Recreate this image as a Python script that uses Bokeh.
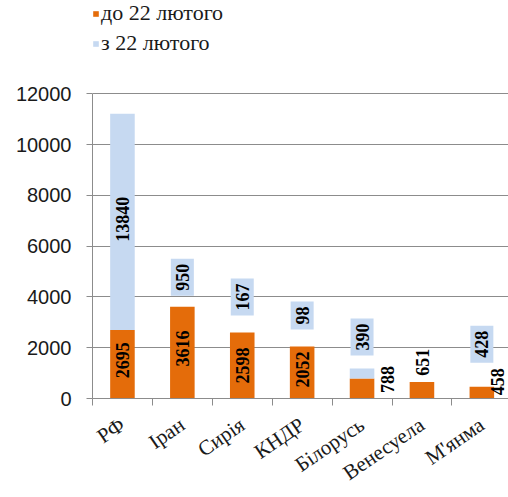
from math import pi
from bokeh.plotting import figure
from bokeh.models import Range1d, FixedTicker, Legend, LegendItem, ColumnDataSource
from bokeh.core.properties import value
from bokeh.embed import file_html
from bokeh.resources import INLINE

# ---- data ----
countries = ["РФ", "Іран", "Сирія", "КНДР", "Білорусь", "Венесуела", "М'янма"]
before_22 = [2695, 3616, 2598, 2052, 788, 651, 458]          # до 22 лютого
after_22_bar = [8520, 0, 0, 0, 390, 0, 0]                    # з 22 лютого (visible bar height)
after_22_label = ["13840", "950", "167", "98", "390", "", "428"]
y_ticks = [0, 2000, 4000, 6000, 8000, 10000, 12000]
series_names = ["до 22 лютого", "з 22 лютого"]

# ---- styles ----
ORANGE = "#e46c0a"
BLUE = "#c6d9f1"
GRID = "#8c8c8c"
SERIF = value("Liberation Serif")
before_off_x = [0, 0, 0, 0, 25, 1, 16]
before_off_y = [-4, -4, 0, -3, -9, -28, -11]
after_off_y = [133, -11, -17, -17, -13, 0, -24]

W, H = 508, 497
LEFT, BOTTOM = 92, 99
CAT_PX = 59.9
Y_MAX = 12000
FRAME_H = H - BOTTOM
Y_TOP = Y_MAX * FRAME_H / (FRAME_H - 93.3)   # room above the axis for the legend

xs = [i + 0.5 for i in range(len(countries))]
src = ColumnDataSource(dict(x=xs, before=before_22, after=after_22_bar))

p = figure(width=W, height=H, x_range=Range1d(0, (W - LEFT) / CAT_PX),
           y_range=Range1d(0, Y_TOP),
           output_backend="svg", toolbar_location=None,
           min_border_left=LEFT, min_border_right=0, min_border_top=0,
           min_border_bottom=BOTTOM)
p.outline_line_color = None
p.background_fill_color = "white"

rs = p.vbar_stack(["before", "after"], x="x", width=0.41, fill_color=[ORANGE, BLUE],
                  line_color=None, source=src)

# orange value labels
bsrc = ColumnDataSource(dict(
    x=xs, y=[v / 2 for v in before_22], t=[str(v) for v in before_22],
    ox=before_off_x, oy=before_off_y))
p.text(x="x", y="y", text="t", source=bsrc, angle=pi / 2, text_align="center",
       text_baseline="middle", text_font=SERIF, text_font_style="bold",
       text_font_size="18px", text_color="black", x_offset="ox", y_offset="oy")

# blue value labels (with boxes)
idx = [i for i, s in enumerate(after_22_label) if s]
asrc = ColumnDataSource(dict(
    x=[xs[i] for i in idx],
    y=[before_22[i] + after_22_bar[i] for i in idx],
    t=[after_22_label[i] for i in idx],
    oy=[after_off_y[i] for i in idx]))
p.text(x="x", y="y", text="t", source=asrc, angle=pi / 2, text_align="left",
       text_baseline="middle", text_font=SERIF, text_font_style="bold",
       text_font_size="18px", text_color="black", y_offset="oy",
       background_fill_color=BLUE, padding=5)

# axes
p.yaxis.ticker = y_ticks
p.yaxis.bounds = (0, Y_MAX)
p.yaxis.axis_line_color = GRID
p.yaxis.major_tick_line_color = GRID
p.yaxis.major_tick_out = 6
p.yaxis.major_tick_in = 0
p.yaxis.minor_tick_line_color = None
p.yaxis.major_label_standoff = 15
p.yaxis.major_label_text_font = "Liberation Sans"
p.yaxis.major_label_text_font_size = "20px"
p.yaxis.major_label_text_color = "#1a1a1a"

p.xaxis.ticker = FixedTicker(ticks=xs, minor_ticks=list(range(len(countries) + 1)))
p.xaxis.major_label_overrides = {x: c for x, c in zip(xs, countries)}
p.xaxis.major_tick_line_color = None
p.xaxis.minor_tick_line_color = GRID
p.xaxis.minor_tick_out = 7
p.xaxis.minor_tick_in = 0
p.xaxis.axis_line_color = GRID
p.xaxis.major_label_orientation = 0.6
p.xaxis.major_label_text_font = "Liberation Serif"
p.xaxis.major_label_text_font_size = "21px"
p.xaxis.major_label_text_color = "#1a1a1a"
p.xaxis.major_label_standoff = 17

p.xgrid.grid_line_color = None
p.ygrid.grid_line_color = GRID

legend = Legend(items=[LegendItem(label=series_names[0], renderers=[rs[0]]),
                       LegendItem(label=series_names[1], renderers=[rs[1]])],
                location="top_left", orientation="vertical",
                glyph_width=7, glyph_height=7, label_standoff=2, spacing=4,
                label_height=22,
                padding=0, margin=0, border_line_color=None, background_fill_alpha=0,
                label_text_font="Liberation Serif", label_text_font_size="22px",
                label_text_color="#1a1a1a")
p.add_layout(legend, "center")

open("out.html", "w").write(file_html(p, INLINE))
